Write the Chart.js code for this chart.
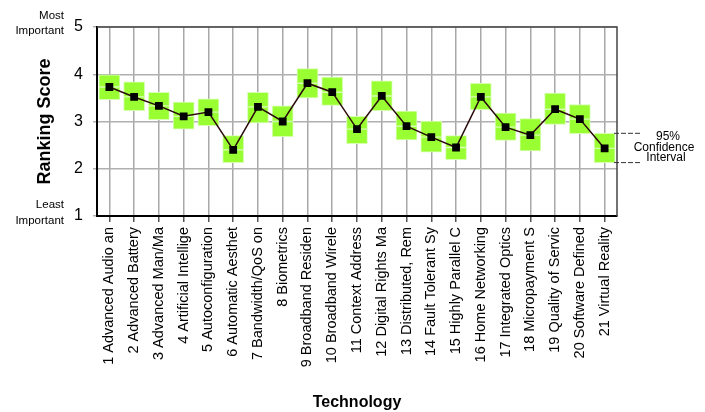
<!DOCTYPE html>
<html>
<head>
<meta charset="utf-8">
<script src="https://cdn.jsdelivr.net/npm/chart.js@4"></script>
<style>
  html, body { margin: 0; padding: 0; background: #fff; }
  #wrap { width: 705px; height: 412px; }
</style>
</head>
<body>
<div id="wrap"><canvas id="rankChart"></canvas></div>
<script>
// technologies on the x axis
const technologies = [
    '1 Advanced Audio an', '2 Advanced Battery', '3 Advanced Man/Ma', '4 Artificial Intellige',
    '5 Autoconfiguration', '6 Automatic Aesthet', '7 Bandwidth/QoS on', '8 Biometrics',
    '9 Broadband Residen', '10 Broadband Wirele', '11 Context Address', '12 Digital Rights Ma',
    '13 Distributed, Rem', '14 Fault Tolerant Sy', '15 Highly Parallel C', '16 Home Networking',
    '17 Integrated Optics', '18 Micropayment S', '19 Quality of Servic', '20 Software Defined',
    '21 Virtual Reality'
];
// mean ranking score
const scores = [3.73, 3.52, 3.33, 3.11, 3.20, 2.40, 3.31, 3.00, 3.81, 3.62, 2.84,
                3.54, 2.90, 2.67, 2.45, 3.52, 2.88, 2.71, 3.26, 3.05, 2.43];
// 95% confidence interval bounds
const ciLow  = [3.46, 3.23, 3.04, 2.84, 2.91, 2.13, 2.97, 2.68, 3.50, 3.34, 2.53,
                3.23, 2.61, 2.35, 2.19, 3.25, 2.60, 2.38, 2.94, 2.74, 2.13];
const ciHigh = [3.99, 3.84, 3.62, 3.41, 3.48, 2.70, 3.62, 3.33, 4.12, 3.94, 3.11,
                3.86, 3.22, 3.01, 2.70, 3.81, 3.18, 3.06, 3.60, 3.36, 2.75];
const yTicks = [1, 2, 3, 4, 5];

const FONT = "'Liberation Sans', Arial, Helvetica, sans-serif";

const lowerBox = scores.map((s, i) => [ciLow[i], s]);
const upperBox = scores.map((s, i) => [s, ciHigh[i]]);

// extra text + frame + CI marker on the right
const extras = {
    id: 'extras',
    afterDraw(chart) {
        const ctx = chart.ctx;
        const area = chart.chartArea;
        const y = chart.scales.y;
        ctx.save();
        // top / right frame
        ctx.strokeStyle = '#444';
        ctx.lineWidth = 1.5;
        ctx.beginPath();
        ctx.moveTo(area.left, area.top);
        ctx.lineTo(area.right, area.top);
        ctx.lineTo(area.right, area.bottom);
        ctx.stroke();

        // left side notes
        ctx.fillStyle = '#000';
        ctx.font = '11.5px ' + FONT;
        ctx.textAlign = 'right';
        ctx.textBaseline = 'middle';
        const top = y.getPixelForValue(5);
        const bot = y.getPixelForValue(1);
        ctx.fillText('Most', 64, top - 11);
        ctx.fillText('Important', 64, top + 4);
        ctx.fillText('Least', 64, bot - 11);
        ctx.fillText('Important', 64, bot + 5);

        // confidence interval marker of last point
        const last = scores.length - 1;
        const yHi = y.getPixelForValue(ciHigh[last]);
        const yLo = y.getPixelForValue(ciLow[last]);
        ctx.strokeStyle = '#333';
        ctx.lineWidth = 1;
        ctx.setLineDash([5, 2]);
        [yHi, yLo].forEach(py => {
            ctx.beginPath();
            ctx.moveTo(area.right - 3, py);
            ctx.lineTo(area.right + 24, py);
            ctx.stroke();
        });
        ctx.setLineDash([]);
        ctx.font = '12px ' + FONT;
        ctx.textAlign = 'center';
        const mid = (yHi + yLo) / 2;
        ctx.fillText('95%', 668, mid - 11);
        ctx.fillText('Confidence', 664, mid);
        ctx.fillText('Interval', 666, mid + 10);
        ctx.restore();
    }
};

new Chart(document.getElementById('rankChart'), {
    type: 'bar',
    data: {
        labels: technologies,
        datasets: [
            {
                type: 'line',
                data: scores,
                borderColor: '#2a0a0a',
                borderWidth: 1.5,
                pointStyle: 'rect',
                pointRadius: 5.5,
                pointBackgroundColor: '#000',
                pointBorderColor: '#000',
                pointBorderWidth: 0,
                order: 0
            },
            {
                data: lowerBox,
                backgroundColor: '#99ff33',
                borderColor: '#d6ffb0',
                borderWidth: 1,
                borderSkipped: false,
                barThickness: 21,
                grouped: false,
                order: 1
            },
            {
                data: upperBox,
                backgroundColor: '#99ff33',
                borderColor: '#d6ffb0',
                borderWidth: 1,
                borderSkipped: false,
                barThickness: 21,
                grouped: false,
                order: 1
            }
        ]
    },
    options: {
        responsive: true,
        maintainAspectRatio: false,
        animation: false,
        layout: { padding: { left: 30, right: 88, top: 27, bottom: 0 } },
        plugins: {
            legend: { display: false },
            tooltip: { enabled: false }
        },
        scales: {
            x: {
                offset: true,
                grid: { offset: false, color: '#a8a8a8', lineWidth: 1.5, tickLength: 6, tickColor: '#555' },
                border: { color: '#000', width: 2 },
                ticks: {
                    color: '#000',
                    font: { family: FONT, size: 14.5 },
                    maxRotation: 90, minRotation: 90,
                    autoSkip: false,
                    padding: 5
                },
                title: {
                    display: true, text: 'Technology', color: '#000',
                    font: { family: FONT, size: 16, weight: 'bold' },
                    padding: { top: 0, bottom: 0 }
                },
                afterFit(scale) { scale.height = 196; }
            },
            y: {
                min: 1, max: 5,
                afterBuildTicks(scale) { scale.ticks = yTicks.map(v => ({ value: v })); },
                grid: { color: '#b0b0b0', lineWidth: 1.5, tickLength: 4 },
                border: { color: '#000', width: 2 },
                ticks: {
                    color: '#000',
                    font: { family: FONT, size: 16 },
                    padding: 10
                },
                title: {
                    display: true, text: 'Ranking Score', color: '#000',
                    font: { family: FONT, size: 18, weight: 'bold' },
                    padding: { top: 4, bottom: 0 }
                },
                afterFit(scale) { scale.width = 67; }
            }
        }
    },
    plugins: [extras]
});
</script>
</body>
</html>
